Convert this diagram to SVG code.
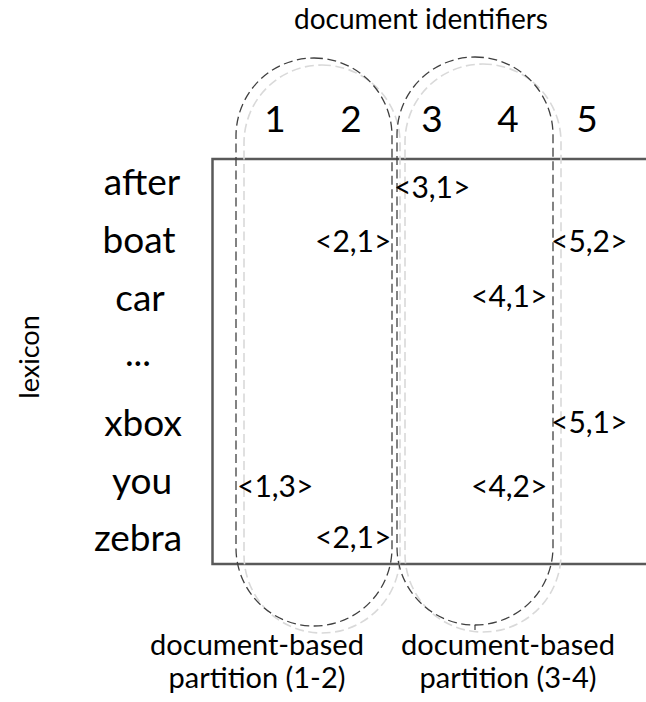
<svg xmlns="http://www.w3.org/2000/svg" width="646" height="702" viewBox="0 0 646 702">
  <style>
    text { font-family: Lato, "Open Sans", "Liberation Sans", sans-serif; fill: #000; }
    .title { font-size: 28px; text-anchor: middle; }
    .col { font-size: 37px; text-anchor: middle; }
    .term { font-size: 37px; text-anchor: middle; }
    .post { font-size: 30px; text-anchor: start; }
    .caption { font-size: 29px; text-anchor: middle; }
    .frame { fill: none; stroke: #595959; stroke-width: 2.5; }
    .part { fill: none; stroke: #404040; stroke-width: 1.3; stroke-dasharray: 9 4.5; }
    .shade { fill: none; stroke: #d9d9d9; stroke-width: 1.6; stroke-dasharray: 9 4.5; }
  </style>

  <rect width="646" height="702" fill="#fff"/>

  <!-- index matrix frame (open to the right) -->
  <path id="frame" class="frame" d="M 650 159 H 212.5 V 564 H 650"/>

  <!-- document-based partitions -->
  <g id="partition-1-2">
    <rect class="shade" x="244" y="65" width="156" height="568" rx="78" ry="78"/>
    <rect class="part" x="236" y="58" width="156" height="568" rx="78" ry="78"/>
  </g>
  <g id="partition-3-4">
    <rect class="shade" x="405" y="64" width="156" height="568" rx="78" ry="78"/>
    <rect class="part" x="397" y="57" width="156" height="568" rx="78" ry="78"/>
  </g>

  <g id="connectors">
    <line x1="475" y1="625" x2="475" y2="630" stroke="#404040" stroke-width="1.2"/>
  </g>

  <!-- column headers -->
  <g id="doc-ids">
    <text class="title" x="421" y="29">document identifiers</text>
    <text class="col" x="275" y="132">1</text>
    <text class="col" x="351" y="132">2</text>
    <text class="col" x="432" y="132">3</text>
    <text class="col" x="508" y="132">4</text>
    <text class="col" x="587" y="132">5</text>
  </g>

  <!-- lexicon terms -->
  <g id="lexicon">
    <text transform="translate(39 357) rotate(-90)" font-size="27" text-anchor="middle">lexicon</text>
    <text class="term" x="142" y="195">after</text>
    <text class="term" x="139" y="253">boat</text>
    <text class="term" x="140" y="311">car</text>
    <text class="term" x="138" y="366">...</text>
    <text class="term" x="143" y="436">xbox</text>
    <text class="term" x="142" y="494">you</text>
    <text class="term" x="138" y="551">zebra</text>
  </g>

  <!-- postings -->
  <g id="postings">
    <text class="post" x="394" y="198">&lt;3,1&gt;</text>
    <text class="post" x="315" y="252">&lt;2,1&gt;</text>
    <text class="post" x="551" y="252">&lt;5,2&gt;</text>
    <text class="post" x="471" y="307">&lt;4,1&gt;</text>
    <text class="post" x="551" y="433">&lt;5,1&gt;</text>
    <text class="post" x="237" y="497">&lt;1,3&gt;</text>
    <text class="post" x="471" y="497">&lt;4,2&gt;</text>
    <text class="post" x="315" y="548">&lt;2,1&gt;</text>
  </g>

  <!-- partition captions -->
  <g id="captions">
    <text class="caption" x="257" y="655">document-based</text>
    <text class="caption" x="257" y="688">partition (1-2)</text>
    <text class="caption" x="508" y="655">document-based</text>
    <text class="caption" x="508" y="688">partition (3-4)</text>
  </g>
</svg>
